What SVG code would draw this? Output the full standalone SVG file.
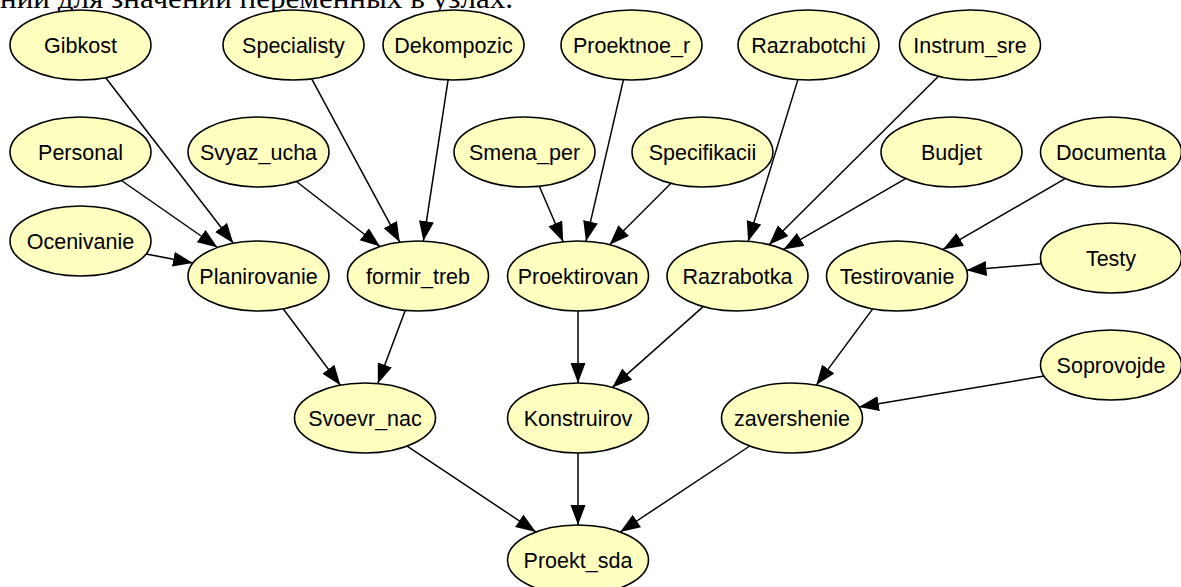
<svg xmlns="http://www.w3.org/2000/svg" width="1181" height="587" viewBox="0 0 1181 587">
<style>
.n ellipse{fill:#ffffc0;stroke:#000;stroke-width:1.6}
.n text{font-family:"Liberation Sans",Arial,sans-serif;font-size:21.5px;fill:#000;text-anchor:middle}
#edges line{stroke:#000;stroke-width:1.5;marker-end:url(#arr)}
.cap{font-family:"Liberation Serif","Times New Roman",serif;font-size:29px;fill:#000}
</style>
<defs>
<marker id="arr" markerUnits="userSpaceOnUse" markerWidth="22" markerHeight="17" refX="20" refY="7.5" orient="auto">
<path d="M0,0 L20,7.5 L0,15 z" fill="#000"/>
</marker>
</defs>
<rect width="1181" height="587" fill="#fff"/>
<text class="cap" x="0" y="8" textLength="513" lengthAdjust="spacingAndGlyphs">ний для значений переменных в узлах.</text>
<g id="edges">
<line x1="105.7" y1="77.7" x2="233.3" y2="243.3"/>
<line x1="121.4" y1="180.5" x2="217.6" y2="247.5"/>
<line x1="146.0" y1="253.9" x2="193.0" y2="263.1"/>
<line x1="311.7" y1="78.8" x2="399.8" y2="242.2"/>
<line x1="448.1" y1="79.9" x2="423.4" y2="241.1"/>
<line x1="296.4" y1="181.5" x2="380.1" y2="246.5"/>
<line x1="539.3" y1="186.2" x2="563.2" y2="241.8"/>
<line x1="623.4" y1="79.8" x2="586.0" y2="241.2"/>
<line x1="671.0" y1="183.3" x2="609.5" y2="244.7"/>
<line x1="797.9" y1="79.6" x2="748.1" y2="241.4"/>
<line x1="938.5" y1="76.3" x2="769.0" y2="244.7"/>
<line x1="905.6" y1="178.6" x2="783.4" y2="249.4"/>
<line x1="1065.1" y1="178.6" x2="942.9" y2="249.4"/>
<line x1="1041.5" y1="263.8" x2="966.5" y2="270.2"/>
<line x1="283.1" y1="308.8" x2="340.4" y2="385.2"/>
<line x1="405.2" y1="310.4" x2="377.8" y2="383.6"/>
<line x1="578" y1="311" x2="578" y2="383"/>
<line x1="703.2" y1="306.6" x2="612.3" y2="387.4"/>
<line x1="872.7" y1="308.9" x2="816.3" y2="385.1"/>
<line x1="1044.1" y1="376.1" x2="858.9" y2="406.9"/>
<line x1="407.1" y1="446.1" x2="535.9" y2="531.9"/>
<line x1="578" y1="453" x2="578" y2="525"/>
<line x1="749.8" y1="446.0" x2="620.2" y2="532.0"/>
</g>
<g id="Gibkost" class="n"><ellipse cx="80.5" cy="45" rx="70.5" ry="35"/><text x="80.5" y="52.5">Gibkost</text></g>
<g id="Specialisty" class="n"><ellipse cx="293.5" cy="45" rx="70.5" ry="35"/><text x="293.5" y="52.5">Specialisty</text></g>
<g id="Dekompozic" class="n"><ellipse cx="453.5" cy="45" rx="70.5" ry="35"/><text x="453.5" y="52.5">Dekompozic</text></g>
<g id="Proektnoe_r" class="n"><ellipse cx="631.5" cy="45" rx="70.5" ry="35"/><text x="631.5" y="52.5">Proektnoe_r</text></g>
<g id="Razrabotchi" class="n"><ellipse cx="808.5" cy="45" rx="70.5" ry="35"/><text x="808.5" y="52.5">Razrabotchi</text></g>
<g id="Instrum_sre" class="n"><ellipse cx="970" cy="45" rx="70.5" ry="35"/><text x="970" y="52.5">Instrum_sre</text></g>
<g id="Personal" class="n"><ellipse cx="80.5" cy="152" rx="70.5" ry="35"/><text x="80.5" y="159.5">Personal</text></g>
<g id="Svyaz_ucha" class="n"><ellipse cx="258.5" cy="152" rx="70.5" ry="35"/><text x="258.5" y="159.5">Svyaz_ucha</text></g>
<g id="Smena_per" class="n"><ellipse cx="524.5" cy="152" rx="70.5" ry="35"/><text x="524.5" y="159.5">Smena_per</text></g>
<g id="Specifikacii" class="n"><ellipse cx="702.5" cy="152" rx="70.5" ry="35"/><text x="702.5" y="159.5">Specifikacii</text></g>
<g id="Budjet" class="n"><ellipse cx="951.5" cy="152" rx="70.5" ry="35"/><text x="951.5" y="159.5">Budjet</text></g>
<g id="Documenta" class="n"><ellipse cx="1111" cy="152" rx="70.5" ry="35"/><text x="1111" y="159.5">Documenta</text></g>
<g id="Ocenivanie" class="n"><ellipse cx="80.5" cy="241" rx="70.5" ry="35"/><text x="80.5" y="248.5">Ocenivanie</text></g>
<g id="Planirovanie" class="n"><ellipse cx="258.5" cy="276" rx="70.5" ry="35"/><text x="258.5" y="283.5">Planirovanie</text></g>
<g id="formir_treb" class="n"><ellipse cx="418" cy="276" rx="70.5" ry="35"/><text x="418" y="283.5">formir_treb</text></g>
<g id="Proektirovan" class="n"><ellipse cx="578" cy="276" rx="70.5" ry="35"/><text x="578" y="283.5">Proektirovan</text></g>
<g id="Razrabotka" class="n"><ellipse cx="737.5" cy="276" rx="70.5" ry="35"/><text x="737.5" y="283.5">Razrabotka</text></g>
<g id="Testirovanie" class="n"><ellipse cx="897" cy="276" rx="70.5" ry="35"/><text x="897" y="283.5">Testirovanie</text></g>
<g id="Testy" class="n"><ellipse cx="1111" cy="258" rx="70.5" ry="35"/><text x="1111" y="265.5">Testy</text></g>
<g id="Soprovojde" class="n"><ellipse cx="1111" cy="365" rx="70.5" ry="35"/><text x="1111" y="372.5">Soprovojde</text></g>
<g id="Svoevr_nac" class="n"><ellipse cx="365" cy="418" rx="70.5" ry="35"/><text x="365" y="425.5">Svoevr_nac</text></g>
<g id="Konstruirov" class="n"><ellipse cx="578" cy="418" rx="70.5" ry="35"/><text x="578" y="425.5">Konstruirov</text></g>
<g id="zavershenie" class="n"><ellipse cx="792" cy="418" rx="70.5" ry="35"/><text x="792" y="425.5">zavershenie</text></g>
<g id="Proekt_sda" class="n"><ellipse cx="578" cy="560" rx="70.5" ry="35"/><text x="578" y="567.5">Proekt_sda</text></g>
</svg>
